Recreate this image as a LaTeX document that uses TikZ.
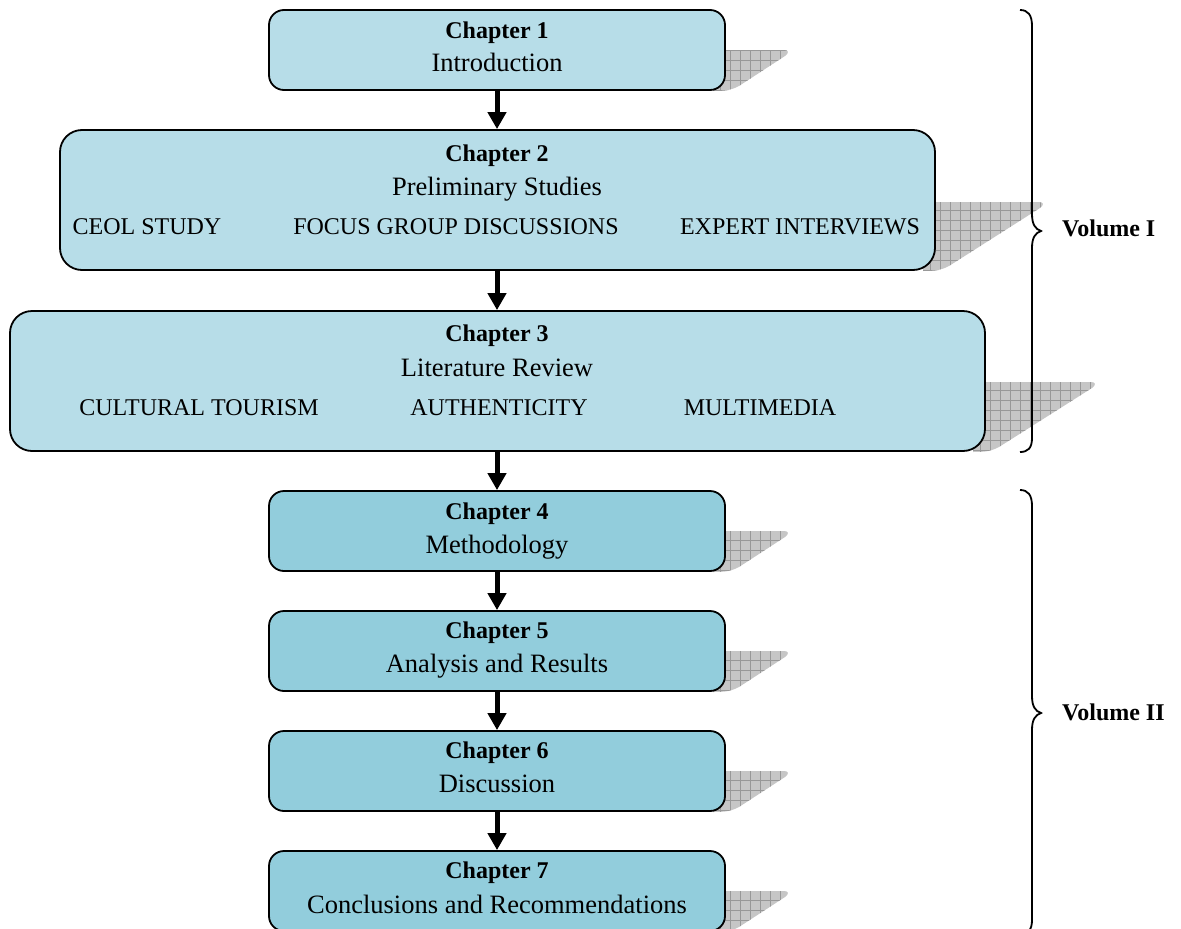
\documentclass[tikz,border=0pt]{standalone}
\usepackage{fontspec}
\setmainfont{Liberation Serif}
\usetikzlibrary{arrows.meta}
\definecolor{boxA}{HTML}{B7DDE8}
\definecolor{boxB}{HTML}{92CDDC}
\definecolor{shadowfill}{HTML}{C6C6C6}
\definecolor{shadowline}{HTML}{989898}
\newcommand\fchap{\fontsize{24}{28}\selectfont\bfseries}
\newcommand\ftitle{\fontsize{26.5}{30}\selectfont}
\newcommand\fcaps{\fontsize{24}{28}\selectfont}
\newcommand\boxshadow[4]{%
\begin{scope}
\clip ({#1-12},#2) -- ({#1+#4-4},#2) .. controls ({#1+#4+1},#2) and ({#1+#4+1},{#2+3}) .. ({#1+#4-3},{#2+6}) -- ({#1+14},{#3-4}) .. controls ({#1+6},{#3}) and ({#1+2},{#3+1}) .. ({#1-12},{#3+1}) -- cycle;
\fill[shadowfill] ({#1-12},{#2-2}) rectangle ({#1+#4+4},{#3+4});
\draw[shadowline, line width=0.7pt, step=10pt] ({#1-12},{#2-2}) grid ({#1+#4+4},{#3+4});
\end{scope}}
\tikzset{
  chapbox/.style={draw, line width=1.8pt, rounded corners=15pt, inner sep=0pt, minimum width=456pt, minimum height=80pt},
  bigbox/.style={chapbox, rounded corners=22pt, minimum height=140pt},
  chaplabel/.style={anchor=base, font=\fchap, inner sep=0pt},
  titlelabel/.style={anchor=base, font=\ftitle, inner sep=0pt},
  capslabel/.style={anchor=base, font=\fcaps, inner sep=0pt},
  flowarrow/.style={line width=5pt, -{Triangle[length=17pt,width=18pt]}},
  bracepath/.style={line width=1.8pt},
}
\begin{document}
\begin{tikzpicture}[x=1pt,y=-1pt]
\useasboundingbox (0,0) rectangle (1181,929);
% shadows
\boxshadow{725}{50}{90}{63}
\boxshadow{935}{202}{270}{108}
\boxshadow{985}{382}{451}{110}
\boxshadow{725}{531}{571}{63}
\boxshadow{725}{651}{691}{63}
\boxshadow{725}{771}{811}{63}
\boxshadow{725}{891}{931}{63}
% boxes
\node[chapbox, fill=boxA] (c1) at (497,50) {};
\node[bigbox, fill=boxA, minimum width=875pt] (c2) at (497.5,200) {};
\node[bigbox, fill=boxA, minimum width=975pt] (c3) at (497.5,381) {};
\node[chapbox, fill=boxB] (c4) at (497,531) {};
\node[chapbox, fill=boxB] (c5) at (497,651) {};
\node[chapbox, fill=boxB] (c6) at (497,771) {};
\node[chapbox, fill=boxB] (c7) at (497,891) {};
% texts
\node[chaplabel] (c1a) at (497,38) {Chapter 1};
\node[titlelabel] (c1b) at (497,71) {Introduction};
\node[chaplabel] (c2a) at (497,161) {Chapter 2};
\node[titlelabel] (c2b) at (497,195) {Preliminary Studies};
\node[capslabel] (c2c) at (147,234) {CEOL STUDY};
\node[capslabel] (c2d) at (456,234) {FOCUS GROUP DISCUSSIONS};
\node[capslabel] (c2e) at (800,234) {EXPERT INTERVIEWS};
\node[chaplabel] (c3a) at (497,341) {Chapter 3};
\node[titlelabel] (c3b) at (497,376) {Literature Review};
\node[capslabel] (c3c) at (199,415) {CULTURAL TOURISM};
\node[capslabel] (c3d) at (499,415) {AUTHENTICITY};
\node[capslabel] (c3e) at (760,415) {MULTIMEDIA};
\node[chaplabel] (c4a) at (497,519) {Chapter 4};
\node[titlelabel] (c4b) at (497,553) {Methodology};
\node[chaplabel] (c5a) at (497,638) {Chapter 5};
\node[titlelabel] (c5b) at (497,672) {Analysis and Results};
\node[chaplabel] (c6a) at (497,758) {Chapter 6};
\node[titlelabel] (c6b) at (497,792) {Discussion};
\node[chaplabel] (c7a) at (497,878) {Chapter 7};
\node[titlelabel] (c7b) at (497,913) {Conclusions and Recommendations};
% arrows
\draw[flowarrow] (c1.south) -- (c1.south |- c2.north);
\draw[flowarrow] (c1.south |- c2.south) -- (c1.south |- c3.north);
\draw[flowarrow] (c1.south |- c3.south) -- (c4.north);
\draw[flowarrow] (c4.south) -- (c5.north);
\draw[flowarrow] (c5.south) -- (c6.north);
\draw[flowarrow] (c6.south) -- (c7.north);
% braces
\draw[bracepath] (1020,10) .. controls (1028,10) and (1032,15) .. (1032,26) -- (1032,214) .. controls (1032,224) and (1035,229) .. (1041,231) .. controls (1035,233) and (1032,238) .. (1032,248) -- (1032,438) .. controls (1032,448) and (1028,452) .. (1020,452);
\draw[bracepath] (1020,490) .. controls (1028,490) and (1032,495) .. (1032,506) -- (1032,696) .. controls (1032,706) and (1035,711) .. (1041,713) .. controls (1035,715) and (1032,720) .. (1032,730) -- (1032,920) .. controls (1032,930) and (1028,934) .. (1020,934);
\node[chaplabel, anchor=base west] (v1) at (1062,236) {Volume I};
\node[chaplabel, anchor=base west] (v2) at (1062,720) {Volume II};
\end{tikzpicture}
\end{document}
